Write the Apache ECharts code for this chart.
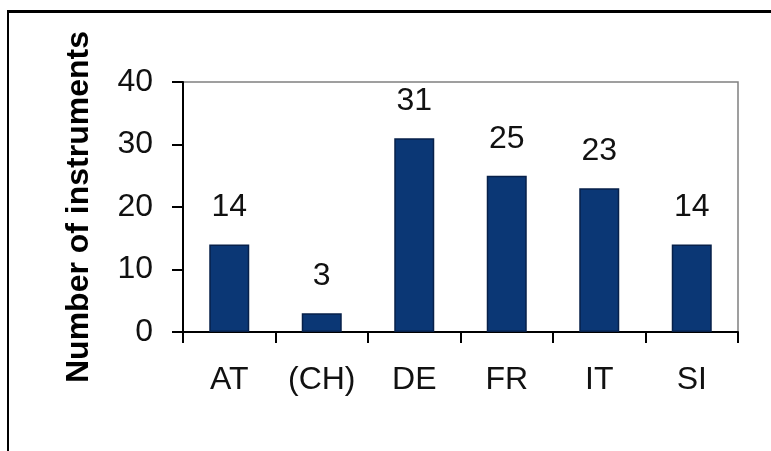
<!DOCTYPE html>
<html>
<head>
<meta charset="utf-8">
<script src="https://cdn.jsdelivr.net/npm/echarts@6/dist/echarts.min.js"></script>
<style>
  html, body { margin: 0; padding: 0; background: #fff; }
  #frame { position: absolute; left: 7px; top: 10px; width: 764px; height: 441px;
           border-top: 3px solid #000; border-left: 2px solid #000; box-sizing: border-box; }
  #chart { width: 771px; height: 451px; position: absolute; left: 0; top: 0; }
</style>
</head>
<body>
<div id="frame"></div>
<div id="chart"></div>
<script>
var categories = ['AT', '(CH)', 'DE', 'FR', 'IT', 'SI'];
var counts = [14, 3, 31, 25, 23, 14];
var yTicks = [0, 10, 20, 30, 40];

var font = '"Liberation Sans", Arial, sans-serif';
var myChart = echarts.init(document.getElementById('chart'));
var option = {
    animation: false,
    grid: {
        left: 183, right: 33, top: 82, bottom: 119,
        show: true,
        borderColor: '#808080',
        borderWidth: 1.5
    },
    xAxis: {
        type: 'category',
        data: categories,
        axisLine: { lineStyle: { color: '#000', width: 2 } },
        axisTick: { show: true, length: 11, lineStyle: { color: '#000', width: 2 } },
        axisLabel: { color: '#111', fontFamily: font, fontSize: 32, margin: 32 }
    },
    yAxis: {
        type: 'value',
        min: yTicks[0],
        max: yTicks[yTicks.length - 1],
        interval: 10,
        name: 'Number of instruments',
        nameLocation: 'middle',
        nameGap: 88,
        nameTextStyle: { color: '#000', fontFamily: font, fontSize: 32, fontWeight: 'bold' },
        axisLine: { show: true, lineStyle: { color: '#000', width: 2 } },
        axisTick: { show: true, length: 11, lineStyle: { color: '#000', width: 2 } },
        axisLabel: { color: '#111', fontFamily: font, fontSize: 32, margin: 30 },
        splitLine: { show: false }
    },
    series: [{
        type: 'bar',
        data: counts,
        barWidth: 40,
        itemStyle: { color: '#0b3775', borderColor: '#07204a', borderWidth: 1.5 },
        label: {
            show: true,
            position: 'top',
            distance: 21,
            color: '#111',
            fontFamily: font,
            fontSize: 32
        }
    }]
};
myChart.setOption(option);
</script>
</body>
</html>
